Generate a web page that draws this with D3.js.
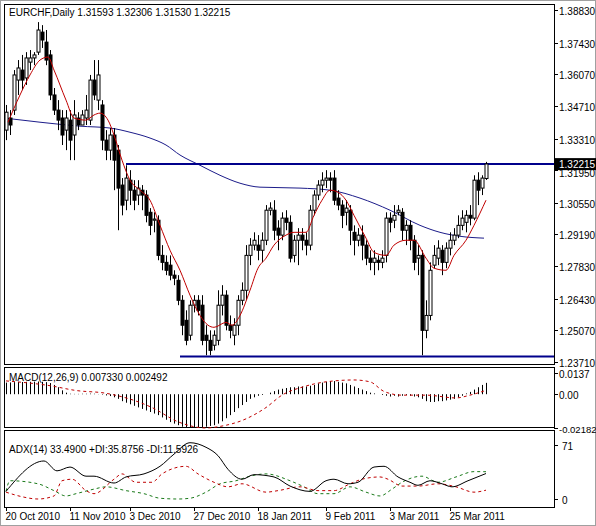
<!DOCTYPE html>
<html><head><meta charset="utf-8">
<script src="https://cdn.jsdelivr.net/npm/d3@7"></script>
<style>body{margin:0;background:#fff}svg{display:block}text{font-family:"Liberation Sans",Arial,sans-serif;font-size:10px;fill:#000}</style>
</head><body><svg id="c" width="596" height="526"></svg>
<script>
const openP=[1.3367,1.3419,1.3453,1.3582,1.3625,1.3591,1.3659,1.3677,1.3702,1.3788,1.3745,1.3690,1.3518,1.3453,1.3419,1.3367,1.3410,1.3346,1.3419,1.3389,1.3419,1.3410,1.3582,1.3496,1.3475,1.3324,1.3281,1.3346,1.3281,1.3131,1.3066,1.3152,1.3109,1.3088,1.3109,1.3088,1.3014,1.2980,1.2980,1.2829,1.2799,1.2787,1.2744,1.2722,1.2636,1.2550,1.2486,1.2615,1.2636,1.2615,1.2486,1.2464,1.2443,1.2464,1.2615,1.2658,1.2529,1.2486,1.2529,1.2636,1.2679,1.2829,1.2873,1.2873,1.2851,1.2894,1.3023,1.3023,1.2946,1.2916,1.2989,1.2971,1.2829,1.2894,1.2916,1.2894,1.2873,1.3023,1.3088,1.3131,1.3152,1.3161,1.3161,1.3075,1.3045,1.3014,1.3023,1.2928,1.2894,1.2916,1.2873,1.2817,1.2799,1.2808,1.2799,1.2829,1.2989,1.2980,1.3014,1.3014,1.2937,1.2958,1.2894,1.2817,1.2829,1.2507,1.2571,1.2787,1.2817,1.2851,1.2799,1.2860,1.2894,1.2916,1.2958,1.2971,1.3001,1.2989,1.3152,1.3118,1.31593];
const closeP=[1.3444,1.3389,1.3604,1.3634,1.3582,1.3677,1.3677,1.3690,1.3797,1.3754,1.3668,1.3518,1.3453,1.3410,1.3346,1.3419,1.3324,1.3432,1.3389,1.3432,1.3453,1.3582,1.3518,1.3604,1.3324,1.3281,1.3346,1.3238,1.3118,1.3045,1.3161,1.3109,1.3066,1.3118,1.3088,1.3001,1.2958,1.2985,1.2829,1.2799,1.2765,1.2744,1.2731,1.2636,1.2529,1.2464,1.2615,1.2636,1.2593,1.2464,1.2464,1.2421,1.2486,1.2615,1.2658,1.2529,1.2507,1.2529,1.2636,1.2679,1.2829,1.2873,1.2894,1.2851,1.2894,1.3023,1.3032,1.2937,1.2916,1.2989,1.2971,1.2817,1.2894,1.2916,1.2894,1.2873,1.3023,1.3088,1.3131,1.3152,1.3161,1.3152,1.3066,1.3045,1.3001,1.3032,1.2937,1.2894,1.2916,1.2873,1.2817,1.2799,1.2817,1.2799,1.2817,1.2989,1.2971,1.3001,1.3023,1.2937,1.2958,1.2894,1.2799,1.2829,1.2507,1.2571,1.2765,1.2829,1.2860,1.2799,1.2860,1.2894,1.2916,1.2958,1.2989,1.3001,1.2989,1.3152,1.3109,1.3161,1.32215];
const highP=[1.3475,1.3453,1.3625,1.3668,1.3690,1.3702,1.3711,1.3702,1.3831,1.3818,1.3797,1.3711,1.3548,1.3496,1.3453,1.3453,1.3453,1.3496,1.3444,1.3453,1.3518,1.3604,1.3668,1.3668,1.3496,1.3367,1.3376,1.3376,1.3303,1.3161,1.3216,1.3195,1.3152,1.3152,1.3131,1.3109,1.3032,1.3014,1.3001,1.2873,1.2829,1.2829,1.2765,1.2744,1.2658,1.2593,1.2636,1.2658,1.2658,1.2658,1.2529,1.2507,1.2507,1.2679,1.2701,1.2679,1.2571,1.2559,1.2658,1.2713,1.2873,1.2903,1.2928,1.2916,1.2928,1.3045,1.3057,1.3066,1.2980,1.3014,1.3023,1.3001,1.2916,1.2946,1.2946,1.2928,1.3045,1.3109,1.3152,1.3186,1.3195,1.3186,1.3195,1.3109,1.3066,1.3066,1.3045,1.2958,1.2946,1.2958,1.2894,1.2851,1.2851,1.2829,1.2851,1.3014,1.3014,1.3045,1.3045,1.3032,1.2980,1.2980,1.2916,1.2873,1.2851,1.2636,1.2799,1.2873,1.2894,1.2873,1.2885,1.2928,1.2946,1.3001,1.3023,1.3023,1.3045,1.3173,1.3186,1.3173,1.32306];
const lowP=[1.3324,1.3346,1.3432,1.3518,1.3539,1.3561,1.3625,1.3646,1.3690,1.3720,1.3646,1.3496,1.3432,1.3367,1.3303,1.3281,1.3238,1.3238,1.3367,1.3389,1.3389,1.3389,1.3496,1.3453,1.3281,1.3238,1.3238,1.3109,1.2937,1.3001,1.3023,1.3045,1.3023,1.3045,1.3023,1.2971,1.2916,1.2928,1.2808,1.2765,1.2744,1.2722,1.2701,1.2615,1.2486,1.2443,1.2464,1.2584,1.2571,1.2443,1.2400,1.2400,1.2421,1.2443,1.2571,1.2507,1.2473,1.2443,1.2486,1.2615,1.2636,1.2787,1.2851,1.2808,1.2799,1.2873,1.3001,1.2894,1.2851,1.2894,1.2937,1.2799,1.2799,1.2787,1.2851,1.2829,1.2851,1.3001,1.3066,1.3100,1.3118,1.3100,1.3045,1.3023,1.2946,1.2958,1.2873,1.2829,1.2868,1.2808,1.2787,1.2765,1.2744,1.2765,1.2774,1.2799,1.2928,1.2946,1.3001,1.2894,1.2873,1.2851,1.2765,1.2744,1.2400,1.2473,1.2550,1.2774,1.2787,1.2744,1.2774,1.2829,1.2873,1.2903,1.2937,1.2928,1.2958,1.2980,1.3045,1.3088,1.31530];
const fastMA=[[0.5,1.3401],[3.5,1.3518],[6,1.3604],[8.5,1.3668],[10.5,1.3681],[12,1.3625],[15,1.3496],[17,1.3419],[20,1.3410],[22,1.3432],[23.5,1.3440],[25.5,1.3410],[27,1.3346],[29,1.3238],[31,1.3152],[33.5,1.3109],[36,1.3066],[38.5,1.2958],[41,1.2851],[43.5,1.2765],[46,1.2658],[48.5,1.2571],[50.5,1.2529],[52,1.2520],[55,1.2541],[56.5,1.2529],[58.5,1.2571],[61,1.2679],[63,1.2774],[65,1.2817],[67,1.2873],[70,1.2916],[72,1.2928],[75,1.2928],[77,1.3001],[79,1.3066],[81,1.3109],[83,1.3100],[85,1.3066],[87,1.3001],[90,1.2903],[92,1.2842],[95,1.2829],[97,1.2873],[100,1.2894],[102,1.2894],[105,1.2817],[107,1.2774],[110,1.2765],[112,1.2829],[115,1.2894],[117,1.2958],[120,1.3066]];
const slowMA=[[-0.5,1.3419],[8.5,1.3401],[18.5,1.3384],[26,1.3376],[31,1.3358],[36,1.3333],[40,1.3303],[43.5,1.3260],[48.5,1.3216],[53.5,1.3173],[58.5,1.3139],[63.5,1.3122],[73.5,1.3118],[81,1.3109],[88.5,1.3075],[96,1.3023],[103.5,1.2958],[108.5,1.2928],[113.5,1.2911],[119.5,1.2903]];
const resistance=1.3221, support=1.2395;
const priceTicks=["1.38830","1.37430","1.36070","1.34710","1.33310","1.31950","1.30550","1.29190","1.27830","1.26430","1.25070","1.23710"];
const macdMain=[0.0075,0.0076,0.0078,0.0079,0.0079,0.0080,0.0080,0.0081,0.0082,0.0080,0.0078,0.0072,
0.0060,0.0045,0.0025,0.0010,
0.0003,0.0002,0.0002,0.0003,0.0003,0.0004,0.0003,0.0001,-0.0003,
-0.0008,-0.0012,-0.0020,-0.0030,
-0.0045,-0.0055,-0.0065,-0.0075,-0.0085,-0.0095,-0.0105,-0.0115,-0.0125,-0.0135,-0.0150,-0.0165,-0.0180,-0.0190,-0.0200,
-0.0210,-0.0215,-0.0215,-0.0218,-0.0218,-0.0215,-0.0210,-0.0205,-0.0200,-0.0190,
-0.0175,-0.0155,-0.0135,-0.0115,-0.0090,-0.0070,-0.0050,-0.0030,
-0.0020,-0.0010,-0.0005,0.0000,
0.0010,0.0020,0.0030,0.0035,0.0040,0.0045,0.0045,0.0050,0.0050,0.0050,0.0055,0.0060,
0.0070,0.0075,0.0080,0.0085,0.0085,0.0080,0.0075,0.0070,
0.0060,0.0050,0.0040,0.0030,0.0020,0.0010,0.0005,0.0000,
-0.0005,-0.0010,-0.0015,-0.0010,-0.0015,-0.0010,-0.0005,-0.0010,-0.0015,-0.0020,-0.0030,-0.0045,
-0.0050,-0.0050,-0.0045,-0.0045,-0.0040,-0.0035,-0.0030,
-0.0020,-0.0010,0.0005,0.0015,0.0030,0.0045,0.0060,0.00733];
const macdSignal=[[0,0.0086],[11,0.0055],[17.5,0.0024],[25,0.0006],[36.5,-0.0086],[43,-0.0178],[50,-0.0218],[53.5,-0.0208],[60,-0.0159],[65,-0.0086],[69,-0.0006],[74.5,0.0049],[80,0.0080],[87,0.0092],[91,0.0080],[94.5,0.0018],[99,-0.0006],[105,-0.0006],[112.5,-0.0024],[116,-0.0006],[120,0.002492]];
const adx=[[0,10],[9.5,50],[12.75,37],[16,42],[20,30],[22,30],[27,21],[30,29],[34.5,33],[38.5,43],[42,59],[46,74],[50,68],[53,57],[55.5,39],[59,26],[62,32],[67,29],[71,17],[76,10],[80,24],[82,26],[85.5,20],[88,22],[92,42],[94.5,43],[98,29],[101,22],[103,18],[106,24],[109,20],[111.5,16],[115.5,24],[120,33.49]];
const plusDI=[[0,10],[1,24],[8,20],[12,11],[15,4],[17.5,7],[22,13],[25,16],[30,11],[34.5,7],[38.5,1],[43,0],[46,1],[50,9],[53.5,20],[57.5,24],[61,30],[65,33],[71,24],[74.5,16],[78,7],[82,7],[86,16],[90,9],[93.5,4],[96.5,13],[99,22],[104,30],[108,22],[112.5,29],[117,36],[120,35.88]];
const minusDI=[[0,9],[4,3],[8,0],[12,4],[14,24],[16.5,26],[20,11],[22,7],[27,26],[29,33],[32.5,22],[36.5,22],[39,33],[45,43],[48,33],[52,22],[55.5,16],[59,20],[65,9],[68,11],[73.5,16],[78,11],[82,11],[86,20],[89,26],[93.5,29],[95.5,26],[99,17],[103,17],[108,20],[112.5,16],[117,9],[120,11.59]];
const dateLabels=["20 Oct 2010","11 Nov 2010","3 Dec 2010","27 Dec 2010","18 Jan 2011","9 Feb 2011","3 Mar 2011","25 Mar 2011"];
const dateBars=[0,16,31,47,63,80,96,111];

const svg=d3.select("#c");
const L=4,R=554;
svg.append("rect").attr("x",0.5).attr("y",0.5).attr("width",595).attr("height",525).attr("fill","#fff").attr("stroke","#a0a0a0");
const x=d3.scaleLinear().domain([-0.5,137]).range([L,R]);
const y=d3.scaleLinear().domain([1.2371,1.3883]).range([362,10]);
const ym=d3.scaleLinear().domain([-0.02182,0.0137]).range([428,373]);
const ya=d3.scaleLinear().domain([0,71]).range([499,445]);
[[4,364],[367,427],[430,507]].forEach(([a,b])=>svg.append("rect").attr("x",L+0.5).attr("y",a+0.5).attr("width",R-L).attr("height",b-a).attr("fill","#fff").attr("stroke","#000"));
priceTicks.forEach(t=>{const yy=Math.round(y(+t))+0.5;
 svg.append("line").attr("x1",R).attr("x2",R+4).attr("y1",yy).attr("y2",yy).attr("stroke","#000");
 if(t!=="1.31950") svg.append("text").attr("x",R+5).attr("y",yy+4).text(t);
 else svg.append("text").attr("x",R+5).attr("y",yy+6).text(t);});
svg.append("clipPath").attr("id","cp").append("rect").attr("x",L+1).attr("y",5).attr("width",R-L-1).attr("height",359);
const g=svg.append("g").attr("clip-path","url(#cp)");
const line=d3.line().x(d=>x(d[0])).y(d=>y(d[1])).curve(d3.curveMonotoneX);
g.append("path").attr("d",line(slowMA)).attr("fill","none").attr("stroke","#1c1c8a").attr("stroke-width",1);
g.append("line").attr("x1",x(30)).attr("x2",R).attr("y1",y(resistance)).attr("y2",y(resistance)).attr("stroke","#00008b").attr("stroke-width",2);
g.append("line").attr("x1",x(43.5)).attr("x2",R).attr("y1",y(support)).attr("y2",y(support)).attr("stroke","#00008b").attr("stroke-width",2);
openP.forEach((o,i)=>{const c=closeP[i],cx=Math.round(x(i))+0.5;
 g.append("line").attr("x1",cx).attr("x2",cx).attr("y1",y(highP[i])).attr("y2",y(lowP[i])).attr("stroke","#000");
 const top=y(Math.max(o,c)),bot=y(Math.min(o,c));
 g.append("rect").attr("x",cx-1.5).attr("y",top).attr("width",3).attr("height",Math.max(1,bot-top)).attr("fill",c>=o?"#fff":"#000").attr("stroke","#000").attr("stroke-width",1);
});
g.append("path").attr("d",line(fastMA)).attr("fill","none").attr("stroke","#c00000").attr("stroke-width",1);
svg.append("rect").attr("x",R+1).attr("y",y(resistance)-6).attr("width",41).attr("height",12).attr("fill","#000");
svg.append("text").attr("x",R+5).attr("y",y(resistance)+4).style("fill","#fff").text("1.32215");
svg.append("text").attr("x",9).attr("y",16).text("EURCHF,Daily  1.31593 1.32306 1.31530 1.32215");
macdMain.forEach((v,i)=>{const cx=Math.round(x(i))+0.5;
 svg.append("line").attr("x1",cx).attr("x2",cx).attr("y1",ym(0)).attr("y2",ym(v)).attr("stroke","#000");});
svg.append("path").attr("d",d3.line().x(d=>x(d[0])).y(d=>ym(d[1])).curve(d3.curveMonotoneX)(macdSignal)).attr("fill","none").attr("stroke","#c00000").attr("stroke-dasharray","3,3");
svg.append("text").attr("x",9).attr("y",381).text("MACD(12,26,9) 0.007330 0.002492");
[["0.0137",0.0137],["0.00",0],["-0.02182",-0.02182]].forEach(([t,v])=>{const yy=Math.round(ym(v))+0.5;
 svg.append("line").attr("x1",R).attr("x2",R+4).attr("y1",yy).attr("y2",yy).attr("stroke","#000");
 svg.append("text").attr("x",R+5).attr("y",yy+4).style("font-size",v<0?"9.5px":"10px").text(t);});
const la=d3.line().x(d=>x(d[0])).y(d=>ya(d[1])).curve(d3.curveMonotoneX);
svg.append("path").attr("d",la(plusDI)).attr("fill","none").attr("stroke","#1a7a1a").attr("stroke-dasharray","3,3");
svg.append("path").attr("d",la(minusDI)).attr("fill","none").attr("stroke","#c00000").attr("stroke-dasharray","3,3");
svg.append("path").attr("d",la(adx)).attr("fill","none").attr("stroke","#000");
svg.append("text").attr("x",9).attr("y",453).text("ADX(14) 33.4900 +DI:35.8756 -DI:11.5926");
[["71",71],["0",0]].forEach(([t,v])=>{const yy=Math.round(ya(v))+0.5;
 svg.append("line").attr("x1",R).attr("x2",R+4).attr("y1",yy).attr("y2",yy).attr("stroke","#000");
 svg.append("text").attr("x",R+8).attr("y",yy+4).text(t);});
dateLabels.forEach((t,i)=>{const xx=Math.round(x(dateBars[i]))+0.5;
 svg.append("line").attr("x1",xx).attr("x2",xx).attr("y1",507).attr("y2",511).attr("stroke","#000");
 svg.append("text").attr("x",xx-1).attr("y",520).text(t);});
</script></body></html>
